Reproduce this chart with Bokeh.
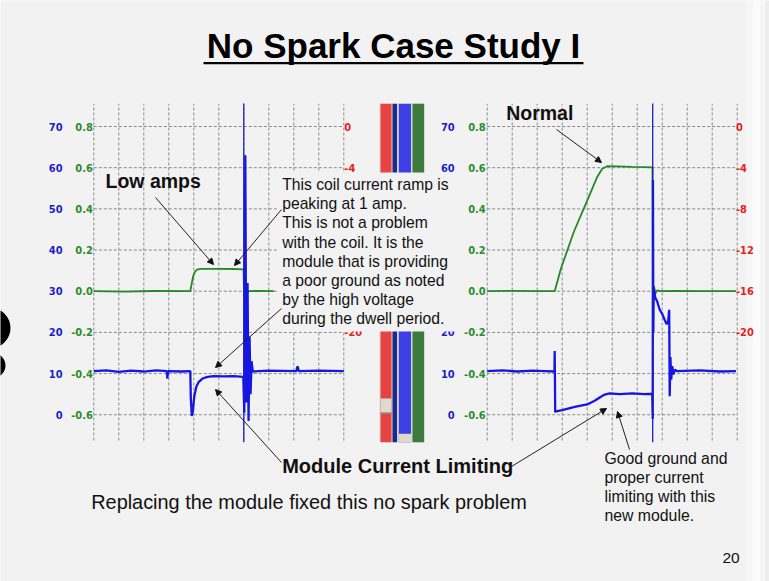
from bokeh.plotting import figure
from bokeh.models import Range1d, Arrow, NormalHead
from bokeh.core.properties import value
from bokeh.embed import file_html
from bokeh.resources import INLINE

# ---------------- data ----------------
TITLE = "No Spark Case Study I"
BLUE_TICKS = [0, 10, 20, 30, 40, 50, 60, 70]
GREEN_TICKS = [-0.6, -0.4, -0.2, 0.0, 0.2, 0.4, 0.6, 0.8]
GREEN_LABELS = ["-0.6", "-0.4", "-0.2", "0.0", "0.2", "0.4", "0.6", "0.8"]
RED_TICKS = [0, -4, -8, -12, -16, -20]
TIME_DIVS = [0, 1, 2, 3, 4, 5, 6, 7, 8, 9, 10]

# left capture ("Low amps"): time in divisions
LEFT_T_GREEN = [0.0, 1.2, 2.4, 3.86, 3.92, 3.98, 4.06, 4.15, 4.3, 5.0, 5.6, 5.99, 6.01, 6.04, 6.08, 6.12, 6.2, 6.5, 7.2]
LEFT_GREEN = [0.0, -0.002, 0.001, 0.0, 0.04, 0.075, 0.097, 0.106, 0.109, 0.109, 0.108, 0.106, 0.0, -0.04, 0.02, -0.01, 0.0, 0.001, 0.0]
LEFT_T_BLUE = [0.0, 0.5, 1.0, 1.5, 2.0, 2.5, 2.92, 2.94, 2.97, 3.5, 3.86, 3.88, 3.92, 3.96, 4.02, 4.1, 4.2, 4.35, 4.55, 4.8, 5.2, 5.6, 5.98,
               6.02, 6.06, 6.1, 6.15, 6.19, 6.23, 6.27, 6.31, 6.36, 7.0, 8.1, 8.15, 8.2, 9.0, 10.0]
LEFT_BLUE = [10.6, 10.8, 10.4, 10.7, 10.5, 10.8, 10.6, 8.8, 10.6, 10.5, 10.6, 4.0, -0.3, 0.8, 4.5, 6.8, 8.0, 8.8, 9.2, 9.4, 9.3, 9.4, 9.2,
             0.5, 63.0, 3.0, 32.0, -1.5, 19.0, 5.0, 13.0, 10.5, 10.7, 10.6, 11.8, 10.6, 10.7, 10.6]
LEFT_CURSOR = 6.0

# right capture ("Normal")
RIGHT_T_GREEN = [0.0, 1.0, 2.0, 2.70, 2.95, 3.47, 4.0, 4.4, 4.6, 4.8, 5.2, 5.8, 6.3, 6.61, 6.63, 6.67, 6.72, 6.8, 6.95, 7.5, 8.5, 9.95]
RIGHT_GREEN = [0.0, 0.002, 0.0, 0.0, 0.11, 0.29, 0.44, 0.555, 0.595, 0.607, 0.606, 0.604, 0.603, 0.601, 0.0, 0.025, -0.012, 0.004, 0.0, 0.002, 0.0, 0.0]
RIGHT_T_BLUE = [0.0, 0.6, 1.2, 1.8, 2.3, 2.69, 2.70, 2.72, 2.75, 3.0, 3.5, 4.0, 4.3, 4.5, 4.7, 4.9, 5.3, 5.8, 6.3, 6.6,
                6.62, 6.63, 6.645, 6.66, 6.72, 6.8, 6.9, 7.0, 7.1, 7.18, 7.24, 7.28, 7.30, 7.33, 7.36, 7.40, 7.45, 7.5, 7.6, 8.5, 9.3, 9.95]
RIGHT_BLUE = [10.6, 10.8, 10.5, 10.7, 10.6, 10.5, 15.5, 0.6, 0.8, 1.1, 1.9, 2.5, 3.4, 4.2, 4.9, 5.2, 5.0, 5.2, 5.0, 5.1,
              -1.0, 57.0, 20.0, 31.0, 28.5, 27.5, 25.5, 24.5, 23.0, 22.0, 22.8, 25.5, 4.5, 14.0, 8.5, 11.8, 9.8, 10.9, 10.6, 10.8, 10.5, 10.6]
RIGHT_CURSOR = 6.62

NOTE_LINES = ["This coil current ramp is", "peaking at 1 amp.", "This is not a problem",
              "with the coil. It is the", "module that is providing", "a poor ground as noted",
              "by the high voltage", "during the dwell period."]
GOOD_LINES = ["Good ground and", "proper current", "limiting with this", "new module."]
CHANNEL_COLORS = ["#e84343", "#1d2b8e", "#3f3fe6", "#3b7b3b"]

# ---------------- layout (slide pixels) ----------------
W, H = 769, 581
X0, X1, Y0, Y1 = 0, W, 0, H
PX_LEFT0, PX_RIGHT0, DIV_PX = 93.3, 486.7, 25.0
PX_G08, PX_PER_G = 126.0, 205.9
BG = "#f2f2f2"
SANS = "Liberation Sans"
NARROW = "'Liberation Sans Narrow', 'DejaVu Sans Condensed', sans-serif"

p = figure(width=W, height=H, x_range=Range1d(X0, X1), y_range=Range1d(Y1, Y0),
           output_backend="svg", toolbar_location=None, min_border=0,
           background_fill_color=BG, border_fill_color=BG)
p.axis.visible = False
p.grid.visible = False
p.outline_line_color = None

g_start = 0.8 - (Y1 - PX_G08) / PX_PER_G
g_end = 0.8 + (PX_G08 - Y0) / PX_PER_G
p.extra_y_ranges["green"] = Range1d(g_start, g_end)
p.extra_y_ranges["blue"] = Range1d((g_start + 0.6) * 50, (g_end + 0.6) * 50)
p.extra_y_ranges["red"] = Range1d((g_start - 0.8) * 20, (g_end - 0.8) * 20)
p.extra_x_ranges["L"] = Range1d((X0 - PX_LEFT0) / DIV_PX, (X1 - PX_LEFT0) / DIV_PX)
p.extra_x_ranges["R"] = Range1d((X0 - PX_RIGHT0) / DIV_PX, (X1 - PX_RIGHT0) / DIV_PX)

# slide decoration: right-edge shading and the clipped letter at the left edge
p.quad(left=[746, 752, 760, 765], right=[752, 760, 765, 769], bottom=[H] * 4, top=[0] * 4,
       fill_color=["#f6f6f6", "#fbfbfb", "#f5f5f5", "#ededed"], line_color=None)
p.circle(x=[-10.3, -7.5], y=[327.5, 365], radius=[20.3, 12.5], fill_color="#000000", line_color=None)

GRID_TOP, GRID_BOT = 0.91, -0.725
BLUE_LBL, GREEN_LBL, RED_LBL = "#1e1ec8", "#2a8c2a", "#e32222"

for name, bx, gx, rx in [("L", -1.25, -0.04, 10.02), ("R", -1.3, -0.06, 9.95)]:
    kw = dict(x_range_name=name, y_range_name="green")
    p.segment(x0=TIME_DIVS, x1=TIME_DIVS, y0=[GRID_BOT] * 11, y1=[GRID_TOP] * 11,
              line_color="#8a8a8a", line_dash="3 2", line_width=1, **kw)
    p.segment(x0=[0] * 8, x1=[10] * 8, y0=GREEN_TICKS, y1=GREEN_TICKS,
              line_color="#8a8a8a", line_dash="3 2", line_width=1, **kw)
    lbl = dict(text_baseline="middle", text_font=value(NARROW), text_font_style="bold",
               text_font_size="11px", x_range_name=name)
    p.text(x=[bx] * 8, y=BLUE_TICKS, text=[str(v) for v in BLUE_TICKS], text_align="right",
           text_color=BLUE_LBL, y_range_name="blue", **lbl)
    p.text(x=[gx] * 8, y=GREEN_TICKS, text=GREEN_LABELS, text_align="right",
           text_color=GREEN_LBL, y_range_name="green", **lbl)
    p.text(x=[rx] * 6, y=RED_TICKS, text=[str(v) for v in RED_TICKS], text_align="left",
           text_color=RED_LBL, y_range_name="red", **lbl)

TRACE_GREEN, TRACE_BLUE, CURSOR = "#25882a", "#1616e4", "#1c1cc0"
p.line(LEFT_T_GREEN, LEFT_GREEN, line_color=TRACE_GREEN, line_width=1.8, x_range_name="L", y_range_name="green")
p.line(LEFT_T_BLUE, LEFT_BLUE, line_color=TRACE_BLUE, line_width=2.3, x_range_name="L", y_range_name="blue")
p.line(RIGHT_T_GREEN, RIGHT_GREEN, line_color=TRACE_GREEN, line_width=1.8, x_range_name="R", y_range_name="green")
p.line(RIGHT_T_BLUE, RIGHT_BLUE, line_color=TRACE_BLUE, line_width=2.3, x_range_name="R", y_range_name="blue")
for name, t in [("L", LEFT_CURSOR), ("R", RIGHT_CURSOR)]:
    p.segment(x0=[t], x1=[t], y0=[-0.733], y1=[0.912], line_color=CURSOR, line_width=1.3,
              x_range_name=name, y_range_name="green")

# channel colour strip between the captures
p.quad(left=[379], right=[424.5], top=[103.3], bottom=[441.7], fill_color="#d6d6d6", line_color=None)
BAR_X = [(380, 391), (392, 396.5), (398.3, 410.5), (412, 423.5)]
p.quad(left=[a for a, b in BAR_X], right=[b for a, b in BAR_X], top=[103.3] * 4, bottom=[441.7] * 4,
       fill_color=CHANNEL_COLORS, line_color=None)
p.quad(left=[380, 398.3], right=[391, 410.5], top=[398, 433.3], bottom=[413, 441.7],
       fill_color="#dedacd", line_color=None)
p.segment(x0=[380], x1=[391], y0=[412.5], y1=[412.5], line_color="#6a6a6a", line_width=1)

# note box hiding the scope behind the explanation
p.quad(left=[277], right=[460], top=[172], bottom=[331], fill_color=BG, line_color=None)

# ---------------- texts ----------------
p.text(x=[393], y=[44.5], text=[TITLE], text_align="center", text_baseline="middle",
       text_font=value(SANS), text_font_style="bold", text_font_size="35px", text_color="#000000")
p.segment(x0=[203], x1=[583], y0=[62.6], y1=[62.6], line_color="#000000", line_width=2.4)

txt = dict(text_baseline="middle", text_font=value(SANS), text_color="#111111", text_align="left")
p.text(x=[105], y=[180], text=["Low amps"], text_font_style="bold", text_font_size="19.5px", **txt)
p.text(x=[505.7], y=[112.8], text=["Normal"], text_font_style="bold", text_font_size="19.5px", **txt)
p.text(x=[281.7] * len(NOTE_LINES), y=[184 + 19.2 * i for i in range(len(NOTE_LINES))], text=NOTE_LINES,
       text_font_size="15.7px", **txt)
p.text(x=[281.7], y=[465], text=["Module Current Limiting"], text_font_style="bold", text_font_size="20px", **txt)
p.text(x=[90.7], y=[501.5], text=["Replacing the module fixed this no spark problem"], text_font_size="19.9px", **txt)
p.text(x=[604] * 4, y=[457.5 + 19 * i for i in range(4)], text=GOOD_LINES, text_font_size="15.8px", **txt)
p.text(x=[722], y=[557.7], text=["20"], text_font_size="15.5px", **txt)

ARROWS = [((155, 197), (213, 264)), ((281, 209), (234, 265)), ((281, 308), (215, 367)),
          ((281, 462), (215, 389)), ((511, 466), (606, 408)), ((629, 449), (617, 411)),
          ((556, 129), (601, 162))]
for (xs, ys), (xe, ye) in ARROWS:
    p.add_layout(Arrow(end=NormalHead(size=6, fill_color="#111111", line_color="#111111", line_width=1),
                       x_start=xs, y_start=ys, x_end=xe, y_end=ye, line_color="#222222", line_width=1))

open("out.html", "w").write(file_html(p, INLINE))
